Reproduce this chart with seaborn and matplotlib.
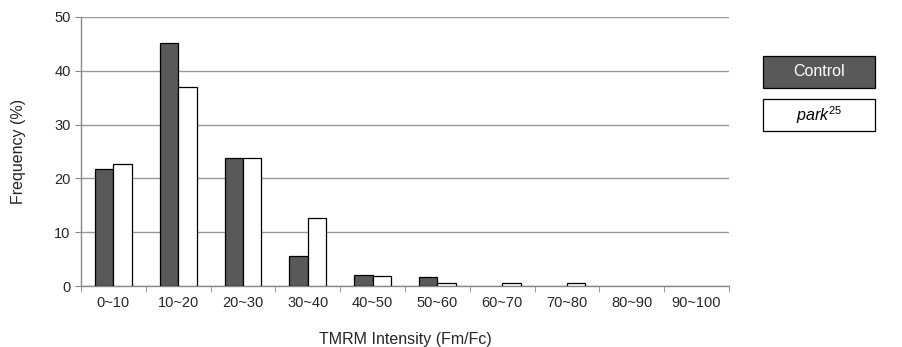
import matplotlib
matplotlib.use("Agg")
import matplotlib.pyplot as plt
from matplotlib.patches import Rectangle
import pandas as pd
import seaborn as sns

bins = ["0~10", "10~20", "20~30", "30~40", "40~50",
        "50~60", "60~70", "70~80", "80~90", "90~100"]
control = [21.8, 45.2, 23.8, 5.6, 2.0, 1.6, 0.0, 0.0, 0.0, 0.0]
park25 = [22.7, 37.0, 23.8, 12.6, 1.9, 0.6, 0.6, 0.6, 0.0, 0.0]
groups = ["Control", "park25"]

df = pd.DataFrame({
    "bin": bins * 2,
    "freq": control + park25,
    "group": [groups[0]] * len(bins) + [groups[1]] * len(bins),
})

sns.set_style("white")
plt.rcParams["font.family"] = ["Liberation Sans", "DejaVu Sans"]
plt.rcParams["mathtext.fontset"] = "custom"
plt.rcParams["mathtext.rm"] = "Liberation Sans"
plt.rcParams["mathtext.it"] = "Liberation Sans:italic"

fig = plt.figure(figsize=(9.02, 3.47), dpi=100)
ax = fig.add_axes([81 / 902, 1 - 286 / 347, (729 - 81) / 902, (286 - 17) / 347])

sns.barplot(data=df, x="bin", y="freq", hue="group", order=bins,
            palette={"Control": "#595959", "park25": "white"},
            edgecolor="black", linewidth=0.9, width=0.57,
            legend=False, ax=ax, zorder=3)

# empty bins show nothing
for p in ax.patches:
    if p.get_height() == 0:
        p.set_visible(False)

ax.set_ylim(0, 50)
ax.set_yticks(range(0, 51, 10))
ax.set_xlim(-0.5, len(bins) - 0.5)
ax.yaxis.grid(True, color="#999999", linewidth=1, zorder=0)
ax.set_axisbelow(True)
for s in ["top", "right"]:
    ax.spines[s].set_visible(False)
for s in ["left", "bottom"]:
    ax.spines[s].set_color("#888888")
    ax.spines[s].set_linewidth(1)

# ticks between categories on x axis
ax.set_xticks(range(len(bins)))
ax.set_xticklabels(bins, fontsize=10.5)
ax.tick_params(axis="x", length=0, pad=7)
ax.set_xticks([i + 0.5 for i in range(-1, len(bins))], minor=True)
ax.tick_params(axis="x", which="minor", length=4, color="#888888", direction="out", bottom=True)
ax.tick_params(axis="y", length=4, color="#888888", direction="out", left=True, labelsize=10.5)

ax.set_xlabel("TMRM Intensity (Fm/Fc)", fontsize=11.5, labelpad=16)
ax.set_ylabel("Frequency (%)", fontsize=11.5, labelpad=20)

# legend boxes
w, h = 112 / 902, 32 / 347
x0 = 763 / 902
fig.patches.append(Rectangle((x0, 1 - 88 / 347), w, h, transform=fig.transFigure,
                             facecolor="#595959", edgecolor="black", linewidth=0.9))
fig.text(x0 + w / 2, 1 - 72 / 347, "Control", color="white", fontsize=11.5,
         ha="center", va="center")
fig.patches.append(Rectangle((x0, 1 - 131 / 347), w, h, transform=fig.transFigure,
                             facecolor="white", edgecolor="black", linewidth=0.9))
fig.text(x0 + w / 2, 1 - 115 / 347, r"$\mathit{park}^{\mathit{25}}$", color="black",
         fontsize=11.5, ha="center", va="center")

fig.savefig("out.png", dpi=100)
